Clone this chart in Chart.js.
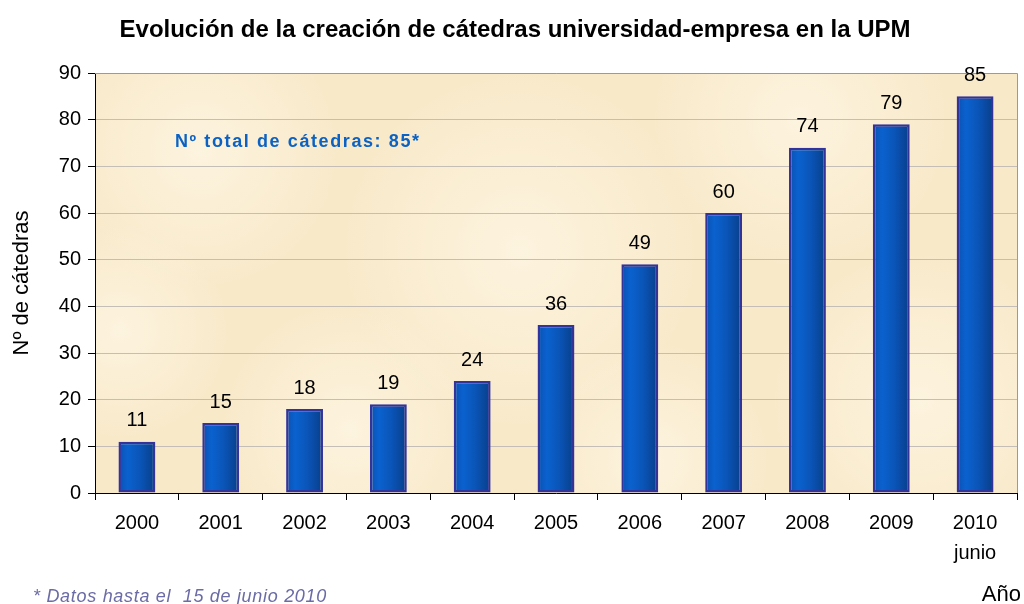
<!DOCTYPE html>
<html><head><meta charset="utf-8">
<script src="https://cdn.jsdelivr.net/npm/chart.js@4.4.1/dist/chart.umd.min.js"></script>
<style>html,body{margin:0;padding:0;background:#fff}#wrap{width:1024px;height:604px}</style>
</head><body><div id="wrap"><canvas id="c" width="1024" height="604"></canvas></div>
<script>
const categories = [["2000"],["2001"],["2002"],["2003"],["2004"],["2005"],["2006"],["2007"],["2008"],["2009"],["2010","junio"]];
const catedras = [11,15,18,19,24,36,49,60,74,79,85];
const yTicks = {min:0, max:90, step:10};
const titleText = "Evolución de la creación de cátedras universidad-empresa en la UPM";
const yTitle = "Nº de cátedras";
const xTitle = "Año";
const noteText = "Nº total de cátedras: 85*";
const footText = "* Datos hasta el  15 de junio 2010";

const FONT = "'Liberation Sans', Arial, sans-serif";
const BAR_PCT = 0.44;

function barGradient(ctx){
  const chart = ctx.chart;
  const xs = chart.scales && chart.scales.x;
  if(!xs || ctx.type !== 'data') return '#0a5cc0';
  const cx = xs.getPixelForValue(ctx.dataIndex);
  const w = (xs.width / categories.length) * BAR_PCT;
  if(!isFinite(cx) || !isFinite(w) || w <= 0) return '#0a5cc0';
  const g = chart.ctx.createLinearGradient(cx - w/2, 0, cx + w/2, 0);
  g.addColorStop(0, '#0a50b0');
  g.addColorStop(0.25, '#0a62cf');
  g.addColorStop(0.6, '#0a54b6');
  g.addColorStop(1, '#083e88');
  return g;
}

const bgPlugin = {
  id:'bg',
  beforeDraw(chart){
    const {ctx, chartArea:a} = chart;
    ctx.save();
    ctx.fillStyle = '#f8e9c9';
    ctx.fillRect(a.left, a.top, a.right-a.left, a.bottom-a.top);
    const spots = [[200,150,140],[520,250,180],[800,120,150],[350,430,130],[920,400,150],[650,460,120],[120,330,110]];
    spots.forEach(([x,y,r])=>{
      const g = ctx.createRadialGradient(x,y,0,x,y,r);
      g.addColorStop(0,'rgba(255,248,232,0.7)');
      g.addColorStop(1,'rgba(255,248,232,0)');
      ctx.fillStyle = g;
      ctx.fillRect(a.left, a.top, a.right-a.left, a.bottom-a.top);
    });
    ctx.restore();
  },
  afterDatasetsDraw(chart){
    const {ctx, chartArea:a} = chart;
    ctx.save();
    ctx.strokeStyle = '#9a9a9a';
    ctx.lineWidth = 1;
    ctx.beginPath();
    ctx.moveTo(a.left, a.top+0.5); ctx.lineTo(a.right+0.5, a.top+0.5); ctx.lineTo(a.right+0.5, a.bottom);
    ctx.stroke();
    const meta = chart.getDatasetMeta(0);
    ctx.fillStyle = '#000';
    ctx.font = '20px ' + FONT;
    ctx.textAlign = 'center';
    ctx.textBaseline = 'bottom';
    meta.data.forEach((el,i)=>{
      ctx.fillText(String(catedras[i]), el.x, el.y - 11);
    });
    ctx.font = 'bold 24px ' + FONT;
    ctx.textBaseline = 'alphabetic';
    ctx.fillText(titleText, 515, 37);
    ctx.fillStyle = '#0b62c4';
    ctx.font = 'bold 18px ' + FONT;
    ctx.textAlign = 'left';
    if ('letterSpacing' in ctx) ctx.letterSpacing = '1.6px';
    ctx.fillText(noteText, 175, 147);
    if ('letterSpacing' in ctx) ctx.letterSpacing = '0.7px';
    ctx.fillStyle = '#6b6ba6';
    ctx.font = 'italic 18px ' + FONT;
    ctx.fillText(footText, 33, 602);
    if ('letterSpacing' in ctx) ctx.letterSpacing = '0px';
    ctx.fillStyle = '#000';
    ctx.font = '22px ' + FONT;
    ctx.textAlign = 'right';
    ctx.fillText(xTitle, 1021, 601);
    ctx.restore();
  }
};

new Chart(document.getElementById('c'), {
  type:'bar',
  data:{
    labels: categories,
    datasets:[{
      data: catedras,
      backgroundColor: barGradient,
      borderColor:'#33339a',
      borderWidth:2.5,
      borderSkipped:false,
      barPercentage: BAR_PCT,
      categoryPercentage: 1.0
    }]
  },
  options:{
    responsive:false,
    animation:false,
    devicePixelRatio:1,
    layout:{padding:{top:73,right:7,left:0,bottom:0}},
    plugins:{legend:{display:false}, tooltip:{enabled:false}, title:{display:false}},
    scales:{
      x:{
        grid:{display:true, drawOnChartArea:false, drawTicks:true, tickLength:7, tickColor:'#000', offset:true},
        border:{display:true, color:'#000', width:1},
        ticks:{color:'#000', font:{family:FONT, size:20, lineHeight:1.5}, padding:8, maxRotation:0, autoSkip:false},
        afterFit(s){ s.height = 111; }
      },
      y:{
        min:yTicks.min, max:yTicks.max,
        grid:{color:'#c4beb6', tickColor:'#000', tickLength:7, drawTicks:true},
        border:{display:true, color:'#000', width:1},
        ticks:{stepSize:yTicks.step, color:'#000', font:{family:FONT, size:20}, padding:7},
        title:{display:true, text:yTitle, color:'#000', font:{family:FONT, size:22}, padding:{top:9,bottom:6}},
        afterFit(s){ s.width = 95; }
      }
    }
  },
  plugins:[bgPlugin]
});
</script></body></html>
